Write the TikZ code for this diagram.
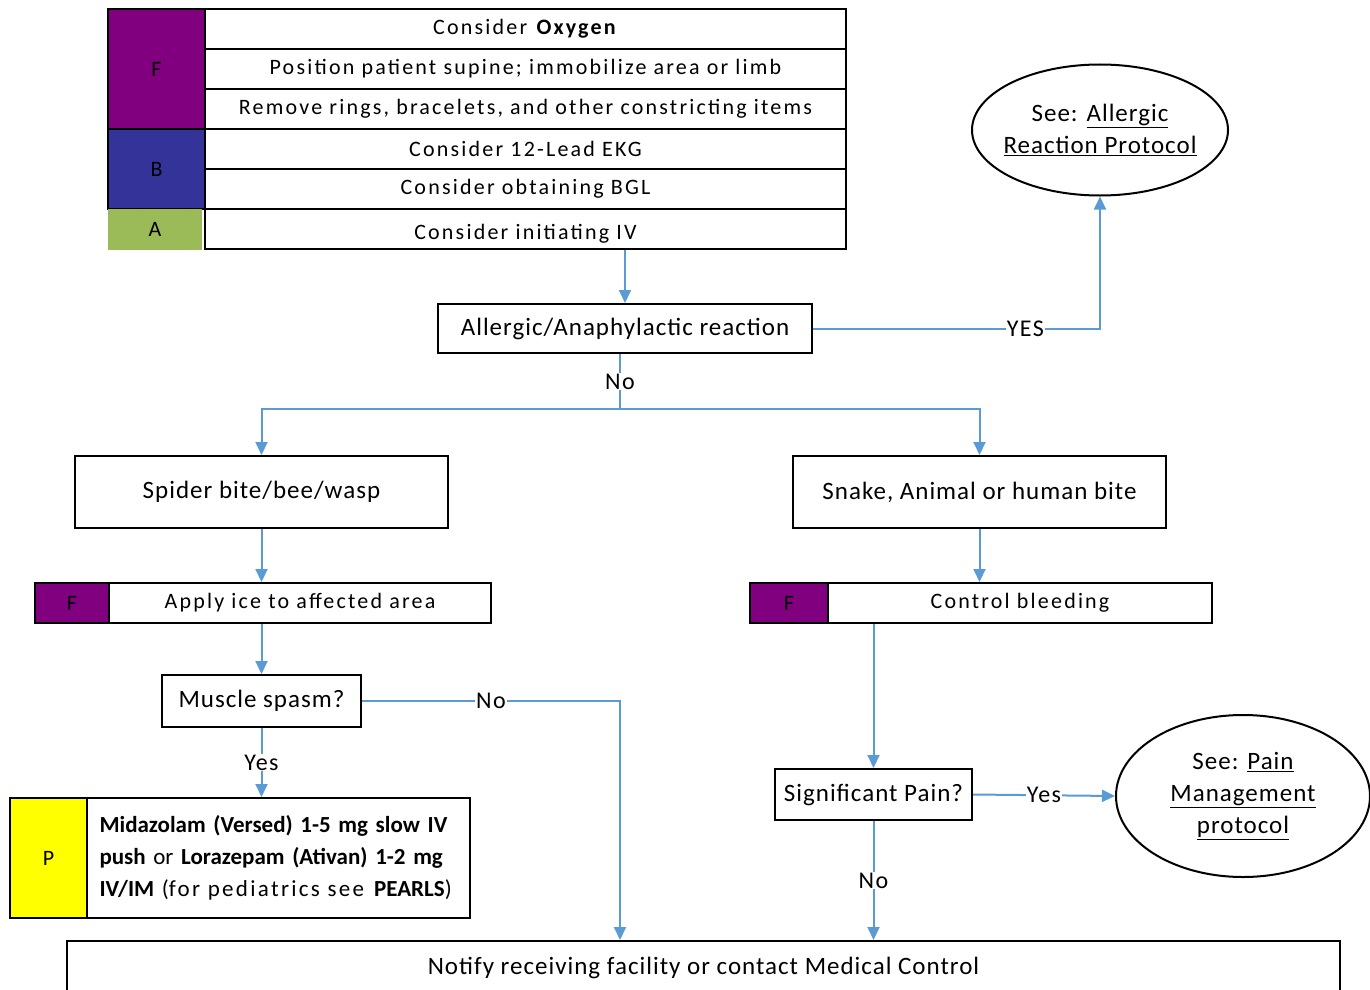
\documentclass[tikz,border=0pt]{standalone}
\usepackage{fontspec}
\setmainfont{Carlito}
\newfontfamily\boxfont[LetterSpace=4]{Carlito}
\newfontfamily\tabfont[LetterSpace=10]{Carlito}
\newfontfamily\lblfont[LetterSpace=6]{Carlito}
\usetikzlibrary{arrows.meta,shapes.geometric}
\definecolor{arr}{HTML}{5B9BD5}
\definecolor{fpurple}{HTML}{800080}
\definecolor{bblue}{HTML}{333399}
\definecolor{agreen}{HTML}{9BBB59}
\definecolor{pyellow}{HTML}{FFFF00}
\begin{document}
\begin{tikzpicture}[x=1pt,y=-1pt,
 box/.style={draw=black, line width=2pt, fill=white, inner sep=0pt, align=center, font=\boxfont\fontsize{25}{30}\selectfont},
 cell/.style={draw=black, line width=2pt, inner sep=0pt, anchor=north west, font=\tabfont\fontsize{22}{26}\selectfont},
 oval/.style={ellipse, draw=black, line width=2pt, inner sep=0pt, align=center, font=\boxfont\fontsize{25}{32}\selectfont},
 conn/.style={draw=arr, line width=2pt, -{Triangle[width=12pt,length=13pt]}},
 lnk/.style={draw=arr, line width=2pt},
 lbl/.style={fill=white, inner sep=1pt, font=\lblfont\fontsize{24}{28}\selectfont}]
\useasboundingbox (0,0) rectangle (1370,990);
% top table
\node[cell, fill=fpurple, minimum width=97pt, minimum height=120pt] (F1) at (107,8) {F};
\node[cell, fill=bblue, minimum width=97pt, minimum height=80pt] (B1) at (107,128) {B};
\node[cell, fill=agreen, draw=none, minimum width=94pt, minimum height=41pt] (A1) at (107,208) {A};
\node[cell, minimum width=641pt, minimum height=40pt] (r1) at (204,8) {Consider \textbf{Oxygen}};
\node[cell, minimum width=641pt, minimum height=40pt] (r2) at (204,48) {Position patient supine; immobilize area or limb};
\node[cell, minimum width=641pt, minimum height=40pt] (r3) at (204,88) {Remove rings, bracelets, and other constricting items};
\node[cell, minimum width=641pt, minimum height=40pt] (r4) at (204,128) {Consider 12-Lead EKG};
\node[cell, minimum width=641pt, minimum height=40pt] (r5) at (204,168) {Consider obtaining BGL};
\node[cell, minimum width=641pt, minimum height=40pt, text depth=0pt, text height=20pt] (r6) at (204,208) {Consider initiating IV};
% main nodes
\node[box, minimum width=374pt, minimum height=49pt] (allergic) at (625,328.5) {Allergic/Anaphylactic reaction};
\node[oval, inner xsep=-7pt, minimum width=256pt, minimum height=131pt] (ell1) at (1100,130) {See: \underline{Allergic}\\\underline{Reaction Protocol}};
\coordinate (split) at (620,409);
\node[box, minimum width=373pt, minimum height=72pt] (spider) at (261.5,492) {Spider bite/bee/wasp};
\node[box, minimum width=373pt, minimum height=72pt] (snake) at (979.5,492) {Snake, Animal or human bite};
\node[cell, fill=fpurple, minimum width=74pt, minimum height=40pt] (iceF) at (34,582) {F};
\node[cell, minimum width=382pt, minimum height=40pt] (ice) at (108,582) {Apply ice to affected area};
\node[cell, fill=fpurple, minimum width=78pt, minimum height=40pt] (ctlF) at (749,582) {F};
\node[cell, minimum width=384pt, minimum height=40pt] (ctl) at (827,582) {Control bleeding};
\node[box, minimum width=199pt, minimum height=52pt] (muscle) at (261.5,701) {Muscle spasm?};
\node[cell, fill=pyellow, minimum width=77pt, minimum height=120pt] (pcell) at (9,797) {P};
\node[cell, minimum width=383pt, minimum height=120pt, align=left, text width=358pt, font=\fontsize{23}{32}\selectfont] (ptext) at (86,797) {\textbf{Midazolam (Versed) 1-5 mg slow IV}\\\textbf{push} or \textbf{Lorazepam (Ativan) 1-2 mg}\\\textbf{IV/IM} ({\tabfont for pediatrics see} \textbf{PEARLS})};
\node[box, minimum width=197pt, minimum height=51pt] (pain) at (873.5,794.5) {Significant Pain?};
\node[oval, minimum width=254pt, minimum height=162pt] (ell2) at (1243,796) {See: \underline{Pain}\\\underline{Management}\\\underline{protocol}};
\node[box, minimum width=1273pt, minimum height=54pt] (notify) at (703.5,968) {Notify receiving facility or contact Medical Control};
% connectors
\draw[conn] (allergic.north |- r6.south) -- (allergic.north);
\draw[conn] (allergic.east) -- node[lbl, pos=0.74]{YES} (allergic.east -| ell1.south) -- (ell1.south);
\draw[lnk] (allergic.south -| split) -- node[lbl]{No} (split);
\draw[conn] (split) -| (spider.north);
\draw[conn] (split) -| (snake.north);
\draw[conn] (spider.south) -- (spider.south |- ice.north);
\draw[conn] (snake.south) -- (snake.south |- ctl.north);
\draw[conn] (spider.south |- ice.south) -- (muscle.north);
\draw[conn] (muscle.east) -- node[lbl]{No} (muscle.east -| split) -- (split |- notify.north);
\draw[conn] (muscle.south) -- node[lbl]{Yes} (muscle.south |- ptext.north);
\draw[conn] (pain.north |- ctl.south) -- (pain.north);
\draw[conn] (pain.east) -- node[lbl]{Yes} (ell2.west);
\draw[conn] (pain.south) -- node[lbl]{No} (pain.south |- notify.north);
\end{tikzpicture}
\end{document}
